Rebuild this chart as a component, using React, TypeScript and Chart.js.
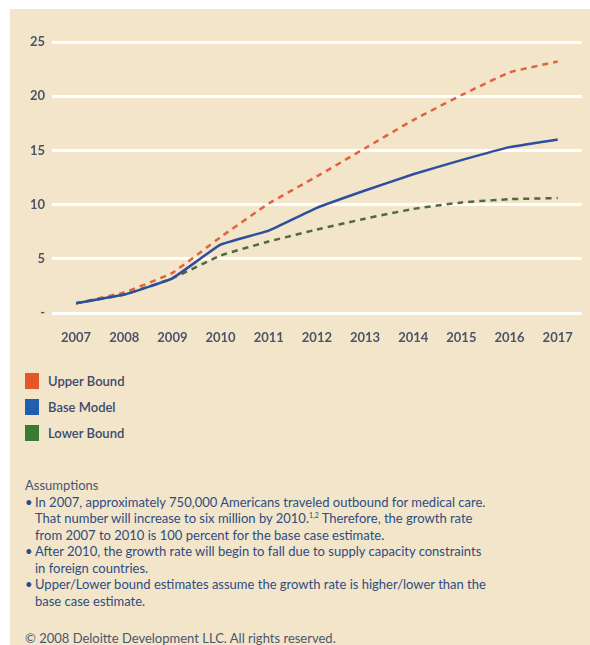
import React, { useEffect, useRef } from "react";
import { Chart, registerables } from "chart.js";

Chart.register(...registerables);

const years = ["2007", "2008", "2009", "2010", "2011", "2012", "2013", "2014", "2015", "2016", "2017"];
const upperBound = [0.9, 1.9, 3.7, 7.0, 10.1, 12.6, 15.2, 17.8, 20.1, 22.2, 23.2];
const baseModel = [0.9, 1.7, 3.2, 6.3, 7.6, 9.7, 11.3, 12.8, 14.1, 15.3, 16.0];
const lowerBound = [0.9, 1.7, 3.2, 5.3, 6.6, 7.7, 8.7, 9.6, 10.2, 10.5, 10.6];
const yTicks = [0, 5, 10, 15, 20, 25];

const legendItems = [
  { label: "Upper Bound", color: "#e4552a" },
  { label: "Base Model", color: "#1f5fae" },
  { label: "Lower Bound", color: "#3a7a35" },
];

const FONT = "Lato, 'Open Sans', sans-serif";
const BG = "#f2e5c9";

export default function App() {
  const ref = useRef<HTMLCanvasElement | null>(null);

  useEffect(() => {
    if (!ref.current) return;
    const chart = new Chart(ref.current, {
      type: "line",
      data: {
        labels: years,
        datasets: [
          {
            label: "Base Model",
            data: baseModel,
            borderColor: "#2d4f9e",
            borderWidth: 2.5,
            pointRadius: 0,
            tension: 0.1,
            order: 0,
          },
          {
            label: "Upper Bound",
            data: upperBound,
            borderColor: "#e0633c",
            borderWidth: 2.5,
            borderDash: [6, 5],
            pointRadius: 0,
            tension: 0.1,
            order: 1,
          },
          {
            label: "Lower Bound",
            data: lowerBound,
            borderColor: "#4f6a3e",
            borderWidth: 2.5,
            borderDash: [6, 5],
            pointRadius: 0,
            tension: 0.1,
            order: 2,
          },
        ],
      },
      options: {
        responsive: false,
        animation: false,
        layout: { padding: { top: 33, right: 5, bottom: 14, left: 0 } },
        plugins: { legend: { display: false }, tooltip: { enabled: false } },
        scales: {
          x: {
            offset: true,
            grid: { display: false, drawTicks: false },
            border: { display: false },
            ticks: {
              color: "#4b5468",
              font: { family: FONT, size: 13, weight: "bold" },
              padding: 17,
              maxRotation: 0,
            },
            afterFit: (axis: any) => {
              axis.height = 32;
            },
          },
          y: {
            min: 0,
            max: 25,
            afterBuildTicks: (axis: any) => {
              axis.ticks = yTicks.map((v) => ({ value: v }));
            },
            grid: { color: "#ffffff", lineWidth: 3, drawTicks: false },
            border: { display: false },
            ticks: {
              color: "#4b5468",
              font: { family: FONT, size: 13, weight: "bold" },
              padding: 7,
              callback: (v: any) => (Number(v) === 0 ? "-" : String(v)),
            },
            afterFit: (axis: any) => {
              axis.width = 42;
            },
          },
        },
      },
    });
    return () => chart.destroy();
  }, []);

  const textColor = "#2f4c82";

  return (
    <div
      style={{
        position: "absolute",
        left: 10,
        top: 9,
        width: 580,
        height: 636,
        background: BG,
        overflow: "hidden",
        fontFamily: FONT,
      }}
    >
      <canvas ref={ref} width={580} height={350} style={{ position: "absolute", left: 0, top: 0 }} />
      {legendItems.map((it, i) => (
        <div key={it.label} style={{ position: "absolute", left: 15, top: 364 + i * 26, height: 16, display: "flex", alignItems: "center" }}>
          <div style={{ width: 14, height: 16, background: it.color }} />
          <div style={{ marginLeft: 9, fontSize: 13, fontWeight: 600, color: "#3b4a6e" }}>{it.label}</div>
        </div>
      ))}
      <div style={{ position: "absolute", left: 15, top: 468, fontSize: 13, lineHeight: "16.5px", color: textColor, whiteSpace: "nowrap" }}>
        <div style={{ color: "#4a5670" }}>Assumptions</div>
        <div style={{ display: "flex" }}>
          <span style={{ width: 10 }}>•</span>
          <span>
            In 2007, approximately 750,000 Americans traveled outbound for medical care.
            <br />
            That number will increase to six million by 2010.<sup style={{ fontSize: 7, lineHeight: 0 }}>1,2</sup> Therefore, the growth rate
            <br />
            from 2007 to 2010 is 100 percent for the base case estimate.
          </span>
        </div>
        <div style={{ display: "flex" }}>
          <span style={{ width: 10 }}>•</span>
          <span>
            After 2010, the growth rate will begin to fall due to supply capacity constraints
            <br />
            in foreign countries.
          </span>
        </div>
        <div style={{ display: "flex" }}>
          <span style={{ width: 10 }}>•</span>
          <span>
            Upper/Lower bound estimates assume the growth rate is higher/lower than the
            <br />
            base case estimate.
          </span>
        </div>
      </div>
      <div style={{ position: "absolute", left: 15, top: 621, fontSize: 13, lineHeight: "16px", color: "#4a5670", whiteSpace: "nowrap" }}>
        © 2008 Deloitte Development LLC. All rights reserved.
      </div>
    </div>
  );
}
